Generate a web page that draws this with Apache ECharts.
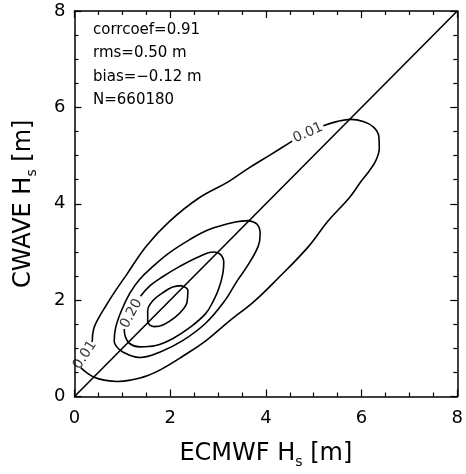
<!DOCTYPE html>
<html>
<head>
<meta charset="utf-8">
<script src="https://cdn.jsdelivr.net/npm/echarts@6/dist/echarts.min.js"></script>
<style>
html,body{margin:0;padding:0;background:#fff;}
#c{width:466px;height:474px;}
</style>
</head>
<body>
<div id="c"></div>
<script>
// ---- data (ECMWF Hs on x, CWAVE Hs on y, metres) ----
const xTicks = [0, 2, 4, 6, 8];
const yTicks = [0, 2, 4, 6, 8];
const statsText = ['corrcoef=0.91', 'rms=0.50 m', 'bias=\u22120.12 m', 'N=660180'];
const diagonal = [[0, 0], [8, 8]];

// level 0.01 (outer), split at its two labels
const contour001a = [[0.37,1.13],[0.40,1.40],[0.50,1.62],[0.63,1.84],[0.82,2.14],[1.09,2.53],[1.50,3.12],[1.98,3.63],[2.60,4.12],[3.22,4.46],[3.64,4.74],[4.10,5.02],[4.55,5.30]];
const contour001b = [[5.20,5.62],[5.50,5.71],[5.77,5.75],[6.05,5.70],[6.25,5.59],[6.36,5.40],[6.37,5.15],[6.30,4.90],[6.16,4.68],[5.98,4.45],[5.74,4.12],[5.29,3.63],[4.88,3.10],[4.26,2.46],[3.75,1.97],[3.24,1.57],[2.75,1.16],[2.27,0.84],[1.86,0.59],[1.52,0.43],[1.17,0.34],[0.90,0.31],[0.62,0.34],[0.41,0.40],[0.26,0.49],[0.13,0.60]];
// second level (unlabelled)
const contour010 = [[3.64,3.65],[3.82,3.57],[3.88,3.38],[3.84,3.12],[3.62,2.72],[3.40,2.40],[3.15,2.00],[2.74,1.52],[2.26,1.16],[1.78,0.92],[1.38,0.81],[1.12,0.87],[0.93,0.98],[0.83,1.15],[0.86,1.43],[0.98,1.78],[1.16,2.15],[1.36,2.43],[1.64,2.70],[1.98,2.98],[2.40,3.25],[2.80,3.46],[3.36,3.62],[3.64,3.65]];
// level 0.20, split at its label
const contour020 = [[1.38,2.08],[1.58,2.30],[1.85,2.49],[2.20,2.70],[2.60,2.90],[2.90,3.00],[3.05,2.95],[3.12,2.78],[3.10,2.55],[3.02,2.25],[2.90,1.98],[2.74,1.72],[2.42,1.44],[2.05,1.20],[1.70,1.06],[1.36,1.03],[1.15,1.10],[1.06,1.25],[1.04,1.40]];
// innermost level
const contourInner = [[2.24,2.30],[2.37,2.20],[2.35,1.95],[2.28,1.82],[2.10,1.64],[1.86,1.49],[1.67,1.45],[1.53,1.56],[1.53,1.78],[1.64,1.99],[1.84,2.15],[2.05,2.27],[2.24,2.30]];
// contour labels: [x, y, text, angle]
const contourLabels = [[0.22,0.86,'0.01',57],[4.88,5.47,'0.01',24],[1.19,1.72,'0.20',62]];

const FONT = 'DejaVu Sans';
const black = '#000';

function tickAxis(pos, isX, showLabel, name) {
  const a = {
    type: 'value', min: 0, max: 8, interval: 2, position: pos,
    axisLine: { show: true, onZero: false, lineStyle: { color: black, width: 1.5 } },
    axisTick: { show: true, inside: true, length: 7, lineStyle: { color: black, width: 1.2 } },
    minorTick: { show: true, splitNumber: 4, length: 4, lineStyle: { color: black, width: 1.2 } },
    splitLine: { show: false },
    axisLabel: {
      show: showLabel, fontSize: 18, color: black, fontFamily: FONT, margin: isX ? 13 : 9,
      showMinLabel: true, showMaxLabel: true,
      formatter: v => String(v)
    }
  };
  if (name) {
    a.name = name;
    a.nameLocation = 'middle';
    a.nameGap = isX ? 45 : 39;
    a.nameTextStyle = {
      fontSize: 24, color: black, fontFamily: FONT, lineHeight: 24,
      rich: { s: { fontSize: 14, lineHeight: 14, padding: [17, 0, 0, 0], fontFamily: FONT, color: black } }
    };
  }
  return a;
}

const lineS = d => ({
  type: 'line', data: d, smooth: 0.4, symbol: 'none', silent: true,
  lineStyle: { color: black, width: 1.6 }, xAxisIndex: 0, yAxisIndex: 0, z: 3
});

const chart = echarts.init(document.getElementById('c'), null, { renderer: 'canvas' });
chart.setOption({
  animation: false,
  backgroundColor: '#fff',
  grid: { left: 74, right: 5, top: 11, bottom: 75, containLabel: false },
  xAxis: [
    tickAxis('bottom', true, true, 'ECMWF H{s|s} [m]'),
    tickAxis('top', true, false, null)
  ],
  yAxis: [
    tickAxis('left', false, true, 'CWAVE H{s|s} [m]'),
    tickAxis('right', false, false, null)
  ],
  graphic: [{
    type: 'text', left: 93, top: 18,
    style: { text: statsText.join('\n'), fontSize: 15, lineHeight: 23.5, fill: black, fontFamily: FONT }
  }],
  series: [
    { type: 'line', data: diagonal, symbol: 'none', silent: true, lineStyle: { color: black, width: 1.6 }, z: 3 },
    lineS(contour001a), lineS(contour001b), lineS(contour010), lineS(contour020), lineS(contourInner),
    {
      type: 'scatter', symbolSize: 1, silent: true, itemStyle: { color: 'rgba(0,0,0,0)' }, z: 4,
      data: contourLabels.map(l => ({
        value: [l[0], l[1]],
        label: { show: true, position: 'inside', formatter: l[2], rotate: l[3], fontSize: 14, color: black, fontFamily: FONT }
      }))
    }
  ]
});
</script>
</body>
</html>
